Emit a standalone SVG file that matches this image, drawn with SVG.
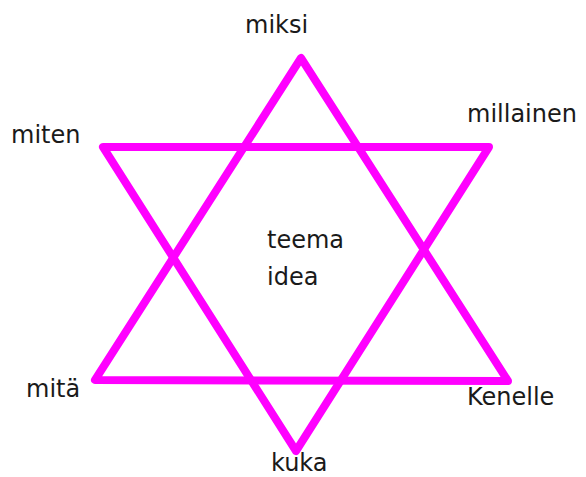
<svg xmlns="http://www.w3.org/2000/svg" width="586" height="477" viewBox="0 0 586 477">
<style>
.e{fill:none;stroke:#ff00ff;stroke-width:8;stroke-linejoin:round;stroke-linecap:round}
text{font-family:"DejaVu Sans",sans-serif;font-size:24px;fill:#1a1a1a}
</style>
<rect width="586" height="477" fill="#ffffff"/>
<g id="connectors">
<polygon class="e" points="301,58 95,380 508,381"/>
<polygon class="e" points="103,147 489,147 296,451"/>
</g>
<g id="miksi"><text x="245" y="33">miksi</text></g>
<g id="miten"><text x="11" y="143">miten</text></g>
<g id="millainen"><text x="467" y="122">millainen</text></g>
<g id="mita"><text x="26" y="397">mitä</text></g>
<g id="kenelle"><text x="467" y="405">Kenelle</text></g>
<g id="kuka"><text x="271" y="471">kuka</text></g>
<g id="center"><text x="267" y="248">teema</text><text x="267" y="285">idea</text></g>
</svg>
